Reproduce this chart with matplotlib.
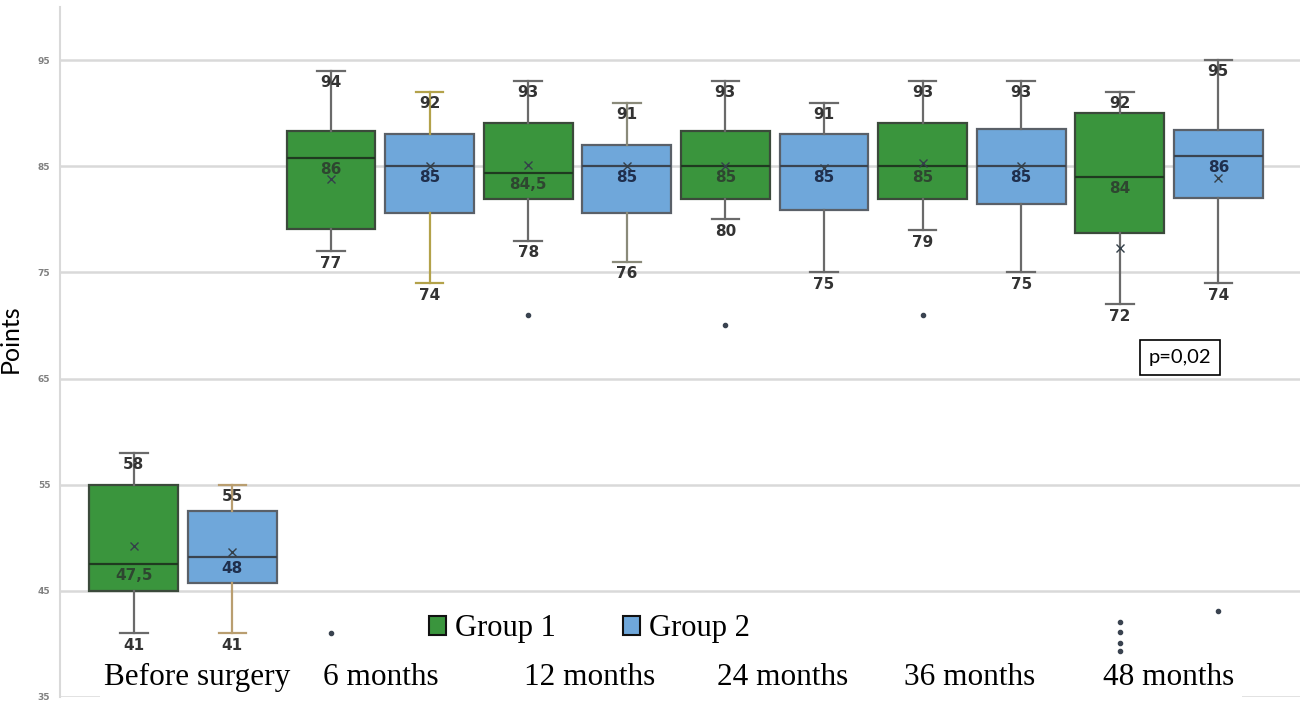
import matplotlib.pyplot as plt
from matplotlib.patches import Patch, Rectangle
from matplotlib.transforms import blended_transform_factory

# values (points)
categories = ['Before surgery', '6 months', '12 months', '24 months', '36 months', '48 months']

g1_whislo = [41, 77, 78, 80, 79, 72]
g1_q1 = [45, 79.1, 81.9, 81.9, 81.9, 78.7]
g1_med = [47.5, 85.8, 84.4, 85, 85, 84]
g1_q3 = [55, 88.3, 89.1, 88.3, 89.1, 90]
g1_whishi = [58, 94, 93, 93, 93, 92]
g1_mean = [49.2, 83.8, 85.1, 85, 85.3, 77.3]
g1_fliers = [[], [41], [71], [70], [71], [42.1, 41.1, 40.1, 39.3]]
g1_med_text = ['47,5', '86', '84,5', '85', '85', '84']

g2_whislo = [41, 74, 76, 75, 75, 74]
g2_q1 = [45.7, 80.6, 80.6, 80.9, 81.4, 82]
g2_med = [48.2, 85, 85, 85, 85, 86]
g2_q3 = [52.5, 88, 87, 88, 88.5, 88.4]
g2_whishi = [55, 92, 91, 91, 93, 95]
g2_mean = [48.7, 85, 85, 84.8, 85, 83.9]
g2_fliers = [[], [], [], [], [], [43.1]]
g2_med_text = ['48', '85', '85', '85', '85', '86']

y_ticks = [35, 45, 55, 65, 75, 85, 95]
p_text = 'p=0,02'

GREEN = '#3a953d'
BLUE = '#6fa7da'
offset = 0.25
width = 0.45
# a couple of the blue boxes have tan whiskers in the original
g2_whisk_col = ['#b99e70', '#b3a24a', '#8a8a7a', '#6a6a6a', '#6a6a6a', '#6a6a6a']


def make_stats(lo, q1, med, q3, hi, mean, fl):
    out = []
    for i in range(len(lo)):
        out.append({'whislo': lo[i], 'q1': q1[i], 'med': med[i], 'q3': q3[i],
                    'whishi': hi[i], 'mean': mean[i], 'fliers': fl[i]})
    return out


fig = plt.figure(figsize=(13.07, 7.12), dpi=100)
ax = fig.add_axes([60 / 1307, 15 / 712, 1240 / 1307, 690 / 712])

groups = [
    (make_stats(g1_whislo, g1_q1, g1_med, g1_q3, g1_whishi, g1_mean, g1_fliers),
     -offset, GREEN, '#3b4a3b', '#1f3a20', '#2e4630', g1_med_text, None),
    (make_stats(g2_whislo, g2_q1, g2_med, g2_q3, g2_whishi, g2_mean, g2_fliers),
     offset, BLUE, '#5a6068', '#3a4450', '#1f2f4d', g2_med_text, g2_whisk_col),
]

for stats, off, face, edge, medc, labc, medtxt, wcols in groups:
    pos = [i + off for i in range(len(stats))]
    art = ax.bxp(stats, positions=pos, widths=width, patch_artist=True, showmeans=True,
                 capwidths=0.14,
                 boxprops=dict(facecolor=face, edgecolor=edge, linewidth=1.6),
                 medianprops=dict(color=medc, linewidth=1.6),
                 whiskerprops=dict(color='#6a6a6a', linewidth=1.6),
                 capprops=dict(color='#6a6a6a', linewidth=1.6),
                 meanprops=dict(marker='x', markeredgecolor='#34404a', markersize=6,
                                markeredgewidth=1),
                 flierprops=dict(marker='o', markerfacecolor='#3a4350',
                                 markeredgecolor='#3a4350', markersize=3),
                 zorder=3)
    if wcols:
        for i, c in enumerate(wcols):
            for ln in art['whiskers'][2 * i:2 * i + 2] + art['caps'][2 * i:2 * i + 2]:
                ln.set_color(c)
    for i, s in enumerate(stats):
        x = pos[i]
        ax.text(x, s['whishi'] - 1.1, '%g' % s['whishi'], ha='center', va='center',
                fontsize=11, fontweight='bold', color='#333333', zorder=5)
        ax.text(x, s['whislo'] - 1.15, '%g' % s['whislo'], ha='center', va='center',
                fontsize=11, fontweight='bold', color='#333333', zorder=5)
        ax.text(x, s['med'] - 1.1, medtxt[i], ha='center', va='center',
                fontsize=11, fontweight='bold', color=labc, zorder=5)

ax.set_xlim(-0.624, 5.664)
ax.set_ylim(35, 100)
ax.set_yticks(y_ticks)
ax.set_yticklabels([str(t) for t in y_ticks], fontsize=6.5, fontweight='bold',
                   color='#808080')
ax.tick_params(axis='y', length=0, pad=7)
ax.set_xticks([])
ax.grid(axis='y', color='#d9d9d9', linewidth=1.8, zorder=0)
ax.set_axisbelow(True)
for side in ['top', 'right', 'bottom']:
    ax.spines[side].set_visible(False)
ax.spines['left'].set_color('#d9d9d9')
ax.spines['left'].set_linewidth(1.5)

ax.set_ylabel('Points', family='Lato', fontsize=18)
ax.yaxis.set_label_coords(-0.031, 0.52)

# white strip behind the category labels, hides the bottom grid line
trans = blended_transform_factory(ax.transAxes, ax.transAxes)
ax.add_patch(Rectangle((40 / 1240, -0.01), 1142 / 1240, 0.07, transform=trans,
                       facecolor='white', edgecolor='none', zorder=4, clip_on=False))

label_tr = blended_transform_factory(ax.transData, ax.transAxes)
label_x = [0.07, 0.005, 0.06, 0.04, -0.01, 0.0]
for i, c in enumerate(categories):
    ax.text(i + label_x[i], 0.028, c, transform=label_tr, ha='center', va='center',
            family='Liberation Serif', fontsize=22.5, zorder=6)

handles = [Patch(facecolor=GREEN, edgecolor='#111111', linewidth=1.5, label='Group 1'),
           Patch(facecolor=BLUE, edgecolor='#111111', linewidth=1.5, label='Group 2')]
ax.legend(handles=handles, loc='center', bbox_to_anchor=(0.427, 0.099), ncol=2,
          frameon=False, prop={'family': 'Liberation Serif', 'size': 22},
          handlelength=0.55, handleheight=0.55, handletextpad=0.3, columnspacing=2.2)

ax.text(5.056, 67, p_text, ha='center', va='center', family='Lato', fontsize=14.5,
        bbox=dict(boxstyle='square,pad=0.45', facecolor='white', edgecolor='black',
                  linewidth=1.2), zorder=6)

fig.savefig('out.png', dpi=100)
